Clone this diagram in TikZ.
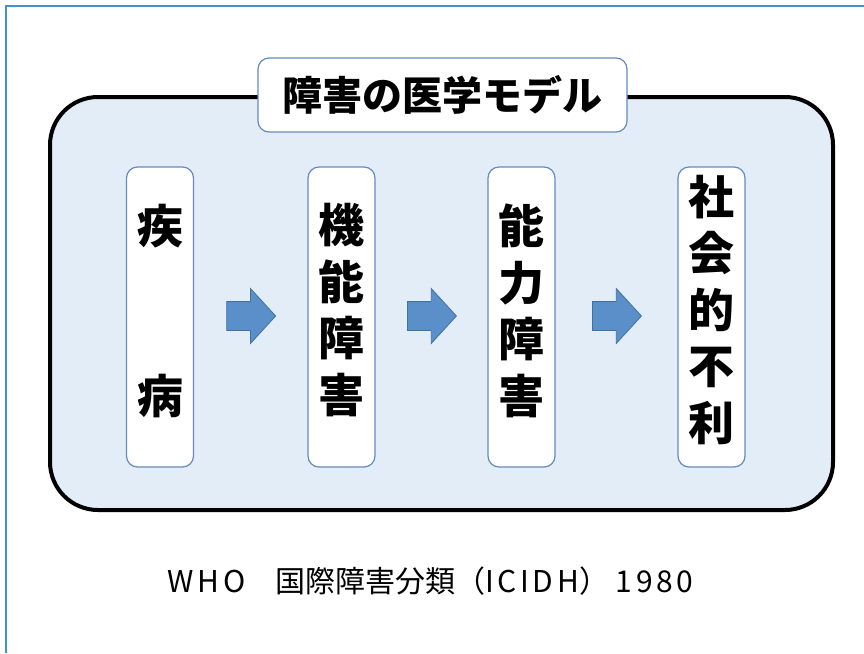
\documentclass[tikz,border=0pt]{standalone}
\usepackage{fontspec}
\setmainfont{Noto Sans CJK JP}
\usetikzlibrary{shapes.arrows,calc}
\definecolor{panelfill}{RGB}{227,237,247}
\definecolor{boxedge}{RGB}{100,138,190}
\definecolor{arrowfill}{RGB}{91,143,201}
\definecolor{arrowedge}{RGB}{65,113,160}
\definecolor{pageedge}{RGB}{70,145,200}
\tikzset{
  panel/.style={draw=black, line width=4pt, fill=panelfill, rounded corners=48pt,
    minimum width=783pt, minimum height=413pt, inner sep=0pt},
  titlebox/.style={draw=boxedge, line width=1.2pt, fill=white, rounded corners=11pt,
    minimum width=369pt, minimum height=74pt, inner sep=0pt,
    font=\fontsize{40}{40}\selectfont\bfseries},
  colbox/.style={draw=boxedge, line width=1.2pt, fill=white, rounded corners=11pt,
    minimum width=67pt, minimum height=300pt, inner sep=0pt},
  coltext/.style={align=center, inner sep=0pt, font=\fontsize{46}{56.5}\selectfont\bfseries},
  flowarrow/.style={single arrow, draw=arrowedge, line width=0.8pt, fill=arrowfill,
    minimum height=49pt, minimum width=54pt, single arrow head extend=13pt,
    single arrow tip angle=95, inner sep=0pt, anchor=tail},
  caption/.style={inner sep=0pt, font=\fontsize{30}{30}\selectfont}
}
\newcommand{\shaft}{\rule{0pt}{28pt}}
\newcommand{\wide}[1]{{\addfontfeatures{LetterSpace=12}#1}}
\begin{document}
\begin{tikzpicture}[x=1pt,y=-1pt]
\useasboundingbox (0,0) rectangle (864,653);
\draw[pageedge, line width=1.5pt] (6,653) -- (6,6) -- (864,6);
\node[panel] (panel) at (441.5,303.5) {};
\node[titlebox] (title) at (442.5,95) {障害の医学モデル};
\node[colbox] (b1) at (160,317) {};
\node[colbox] (b2) at (341.5,317) {};
\node[colbox] (b3) at (521.5,317) {};
\node[colbox] (b4) at (711.5,317) {};
\node[coltext] (t1) at (160,311) {疾\\[113pt]病};
\node[coltext] (t2) at (341.5,310) {機\\能\\障\\害};
\node[coltext] (t3) at (521.5,311) {能\\力\\障\\害};
\node[coltext] (t4) at (711.5,310) {社\\会\\的\\不\\利};
\node[flowarrow] (a1) at ($(b1.east)!0.5!(b2.west)+(-24.5,-1)$) {\shaft};
\node[flowarrow] (a2) at ($(b2.east)!0.5!(b3.west)+(-24.5,-1)$) {\shaft};
\node[flowarrow] (a3) at ($(b3.east)!0.5!(b4.west)+(-24.5,-1)$) {\shaft};
\node[caption] (cap) at (430.5,581) {\wide{WHO}　国際障害分類（\wide{ICIDH}） \wide{1980}};
\end{tikzpicture}
\end{document}
